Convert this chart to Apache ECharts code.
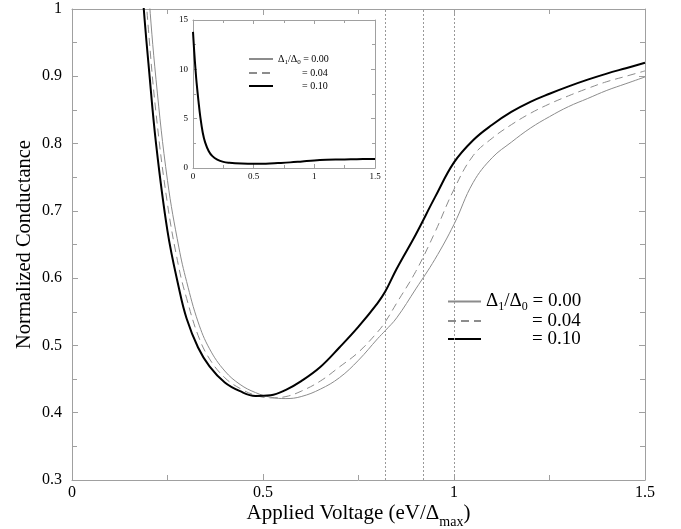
<!DOCTYPE html>
<html>
<head>
<meta charset="utf-8">
<script src="https://cdn.jsdelivr.net/npm/echarts@6/dist/echarts.min.js"></script>
<style>
  html, body { margin: 0; padding: 0; background: #fff; }
  #chart { width: 681px; height: 529px; }
</style>
</head>
<body>
<div id="chart"></div>
<script>
// main plot: applied voltage (eV/Δmax)
const xs = [0.18, 0.19, 0.2, 0.22, 0.25, 0.28, 0.3, 0.33, 0.36, 0.4, 0.44, 0.48, 0.52, 0.56, 0.6, 0.65, 0.7, 0.75, 0.8, 0.82, 0.85, 0.9, 0.95, 1.0, 1.05, 1.1, 1.15, 1.2, 1.25, 1.3, 1.35, 1.4, 1.45, 1.5];
// normalized conductance for Δ1/Δ0 = 0.00, 0.04, 0.10
const g000 = [1.22, 1.12, 1.03, 0.895, 0.745, 0.645, 0.595, 0.535, 0.495, 0.462, 0.442, 0.43, 0.423, 0.421, 0.424, 0.435, 0.452, 0.478, 0.51, 0.522, 0.541, 0.584, 0.628, 0.68, 0.742, 0.779, 0.802, 0.823, 0.84, 0.855, 0.867, 0.879, 0.889, 0.899];
const g004 = [1.15, 1.05, 0.97, 0.845, 0.71, 0.615, 0.57, 0.515, 0.48, 0.452, 0.436, 0.426, 0.422, 0.424, 0.432, 0.447, 0.468, 0.49, 0.52, 0.535, 0.563, 0.61, 0.668, 0.732, 0.782, 0.808, 0.828, 0.845, 0.859, 0.871, 0.882, 0.892, 0.9, 0.908];
const g010 = [1.06, 0.985, 0.92, 0.8, 0.67, 0.585, 0.54, 0.497, 0.469, 0.445, 0.432, 0.425, 0.426, 0.434, 0.447, 0.468, 0.497, 0.528, 0.563, 0.58, 0.614, 0.665, 0.72, 0.772, 0.805, 0.828, 0.847, 0.862, 0.874, 0.885, 0.895, 0.904, 0.912, 0.92];
// dotted reference voltages
const marks = [0.817, 0.924, 1.0];

// inset: full range
const xsIn = [0, 0.01, 0.02, 0.03, 0.045, 0.06, 0.08, 0.1, 0.13, 0.16, 0.2, 0.25, 0.3, 0.4, 0.5, 0.6, 0.7, 0.8, 0.9, 1.0, 1.1, 1.2, 1.3, 1.4, 1.5];
const gIn = [13.8, 11.8, 10.1, 8.6, 6.8, 5.2, 3.6, 2.6, 1.7, 1.2, 0.85, 0.62, 0.53, 0.45, 0.42, 0.44, 0.5, 0.57, 0.67, 0.77, 0.83, 0.86, 0.88, 0.9, 0.92];

const names = ['0.00', '0.04', '0.10'];
const font = 'Liberation Serif';
const frame = '#a0a0a0';

const pairs = (x, y) => x.map((v, i) => [v, y[i]]);

function axisX(grid, pos, show, size, margin) {
  return {
    type: 'value', gridIndex: grid, position: pos, min: 0, max: 1.5, interval: 0.5,
    axisLine: { show: true, onZero: false, lineStyle: { color: frame, width: 1 } },
    axisTick: { show: true, inside: true, length: size > 12 ? 6 : 4, lineStyle: { color: frame } },
    minorTick: { show: true, splitNumber: 2, length: size > 12 ? 5 : 3, lineStyle: { color: frame } },
    splitLine: { show: false },
    axisLabel: { show: show, fontFamily: font, fontSize: size, color: '#000', margin: margin,
      formatter: v => String(Math.round(v * 10) / 10) }
  };
}
function axisY(grid, pos, show, min, max, step, minor, size, margin) {
  return {
    type: 'value', gridIndex: grid, position: pos, min: min, max: max, interval: step,
    axisLine: { show: true, onZero: false, lineStyle: { color: frame, width: 1 } },
    axisTick: { show: true, inside: true, length: size > 12 ? 6 : 4, lineStyle: { color: frame } },
    minorTick: { show: true, splitNumber: minor, length: size > 12 ? 5 : 3, lineStyle: { color: frame } },
    splitLine: { show: false },
    axisLabel: { show: show, fontFamily: font, fontSize: size, color: '#000', margin: margin,
      formatter: v => String(Math.round(v * 10) / 10) }
  };
}

const xMain = axisX(0, 'bottom', true, 16, 5);
xMain.name = 'Applied Voltage (eV/Δ{sub|max})';
xMain.nameLocation = 'middle';
xMain.nameGap = 17;
xMain.nameMoveOverlap = false;
xMain.nameTextStyle = { fontFamily: font, fontSize: 21, color: '#000', lineHeight: 26,
  rich: { sub: { fontFamily: font, fontSize: 14, lineHeight: 32, verticalAlign: 'bottom', color: '#000' } } };

const yMain = axisY(0, 'left', true, 0.3, 1, 0.1, 2, 16, 10);
yMain.name = 'Normalized Conductance';
yMain.nameLocation = 'middle';
yMain.nameGap = 37;
yMain.nameMoveOverlap = false;
yMain.nameTextStyle = { fontFamily: font, fontSize: 20.5, color: '#000' };

const lineStyles = [
  { color: '#8c8c8c', width: 1, type: 'solid' },
  { color: '#8c8c8c', width: 1, type: [8, 5] },
  { color: '#000', width: 2, type: 'solid' }
];
const mainData = [g000, g004, g010];

const series = names.map((n, i) => ({
  name: n, type: 'line', xAxisIndex: 0, yAxisIndex: 0,
  data: pairs(xs, mainData[i]), symbol: 'none', smooth: 0.4, clip: true,
  lineStyle: lineStyles[i], itemStyle: { color: lineStyles[i].color },
  z: 3 + i
}));
series[0].markLine = {
  silent: true, symbol: 'none', label: { show: false },
  lineStyle: { color: '#999', type: [2, 2], width: 1 },
  data: marks.map(m => ({ xAxis: m }))
};
series.push({
  name: '0.10', type: 'line', xAxisIndex: 2, yAxisIndex: 2,
  data: pairs(xsIn, gIn), symbol: 'none', smooth: 0.4,
  lineStyle: { color: '#000', width: 2 }, z: 6
});

const legendRich = (big) => ({
  d: { fontFamily: font, fontSize: big ? 19 : 10, color: '#000', lineHeight: big ? 18 : 11 },
  s: { fontFamily: font, fontSize: big ? 12 : 7, color: '#000', lineHeight: big ? 22 : 14, verticalAlign: 'bottom' },
  sp: { width: big ? 46 : 24, lineHeight: big ? 18 : 11 }
});
const legendFmt = n => n === '0.00'
  ? '{d|Δ}{s|1}{d|/Δ}{s|0}{d| = 0.00}'
  : '{sp| }{d|= ' + n + '}';

const option = {
  animation: false,
  backgroundColor: '#fff',
  grid: [
    { left: 72, top: 9, width: 573, height: 471, outerBoundsMode: 'none', containLabel: false },
    { left: 193, top: 20, width: 182, height: 148, outerBoundsMode: 'none', containLabel: false }
  ],
  xAxis: [
    xMain,
    axisX(0, 'top', false, 16, 7),
    axisX(1, 'bottom', true, 9, 4),
    axisX(1, 'top', false, 9, 4)
  ],
  yAxis: [
    yMain,
    axisY(0, 'right', false, 0.3, 1, 0.1, 2, 16, 10),
    axisY(1, 'left', true, 0, 15, 5, 2, 9, 5),
    axisY(1, 'right', false, 0, 15, 5, 2, 9, 5)
  ],
  legend: [
    { left: 447, top: 292, orient: 'vertical', padding: 0, itemWidth: 33, itemHeight: 10, itemGap: -1,
      data: names, formatter: legendFmt, selectedMode: false, itemStyle: { opacity: 0 },
      textStyle: { rich: legendRich(true) } },
    { left: 248, top: 54, orient: 'vertical', padding: 0, itemWidth: 24, itemHeight: 8, itemGap: 1,
      data: names, formatter: legendFmt, selectedMode: false, itemStyle: { opacity: 0 },
      textStyle: { rich: legendRich(false) } }
  ],
  series: series
};

const chart = echarts.init(document.getElementById('chart'), null, { renderer: 'canvas' });
chart.setOption(option);
</script>
</body>
</html>
